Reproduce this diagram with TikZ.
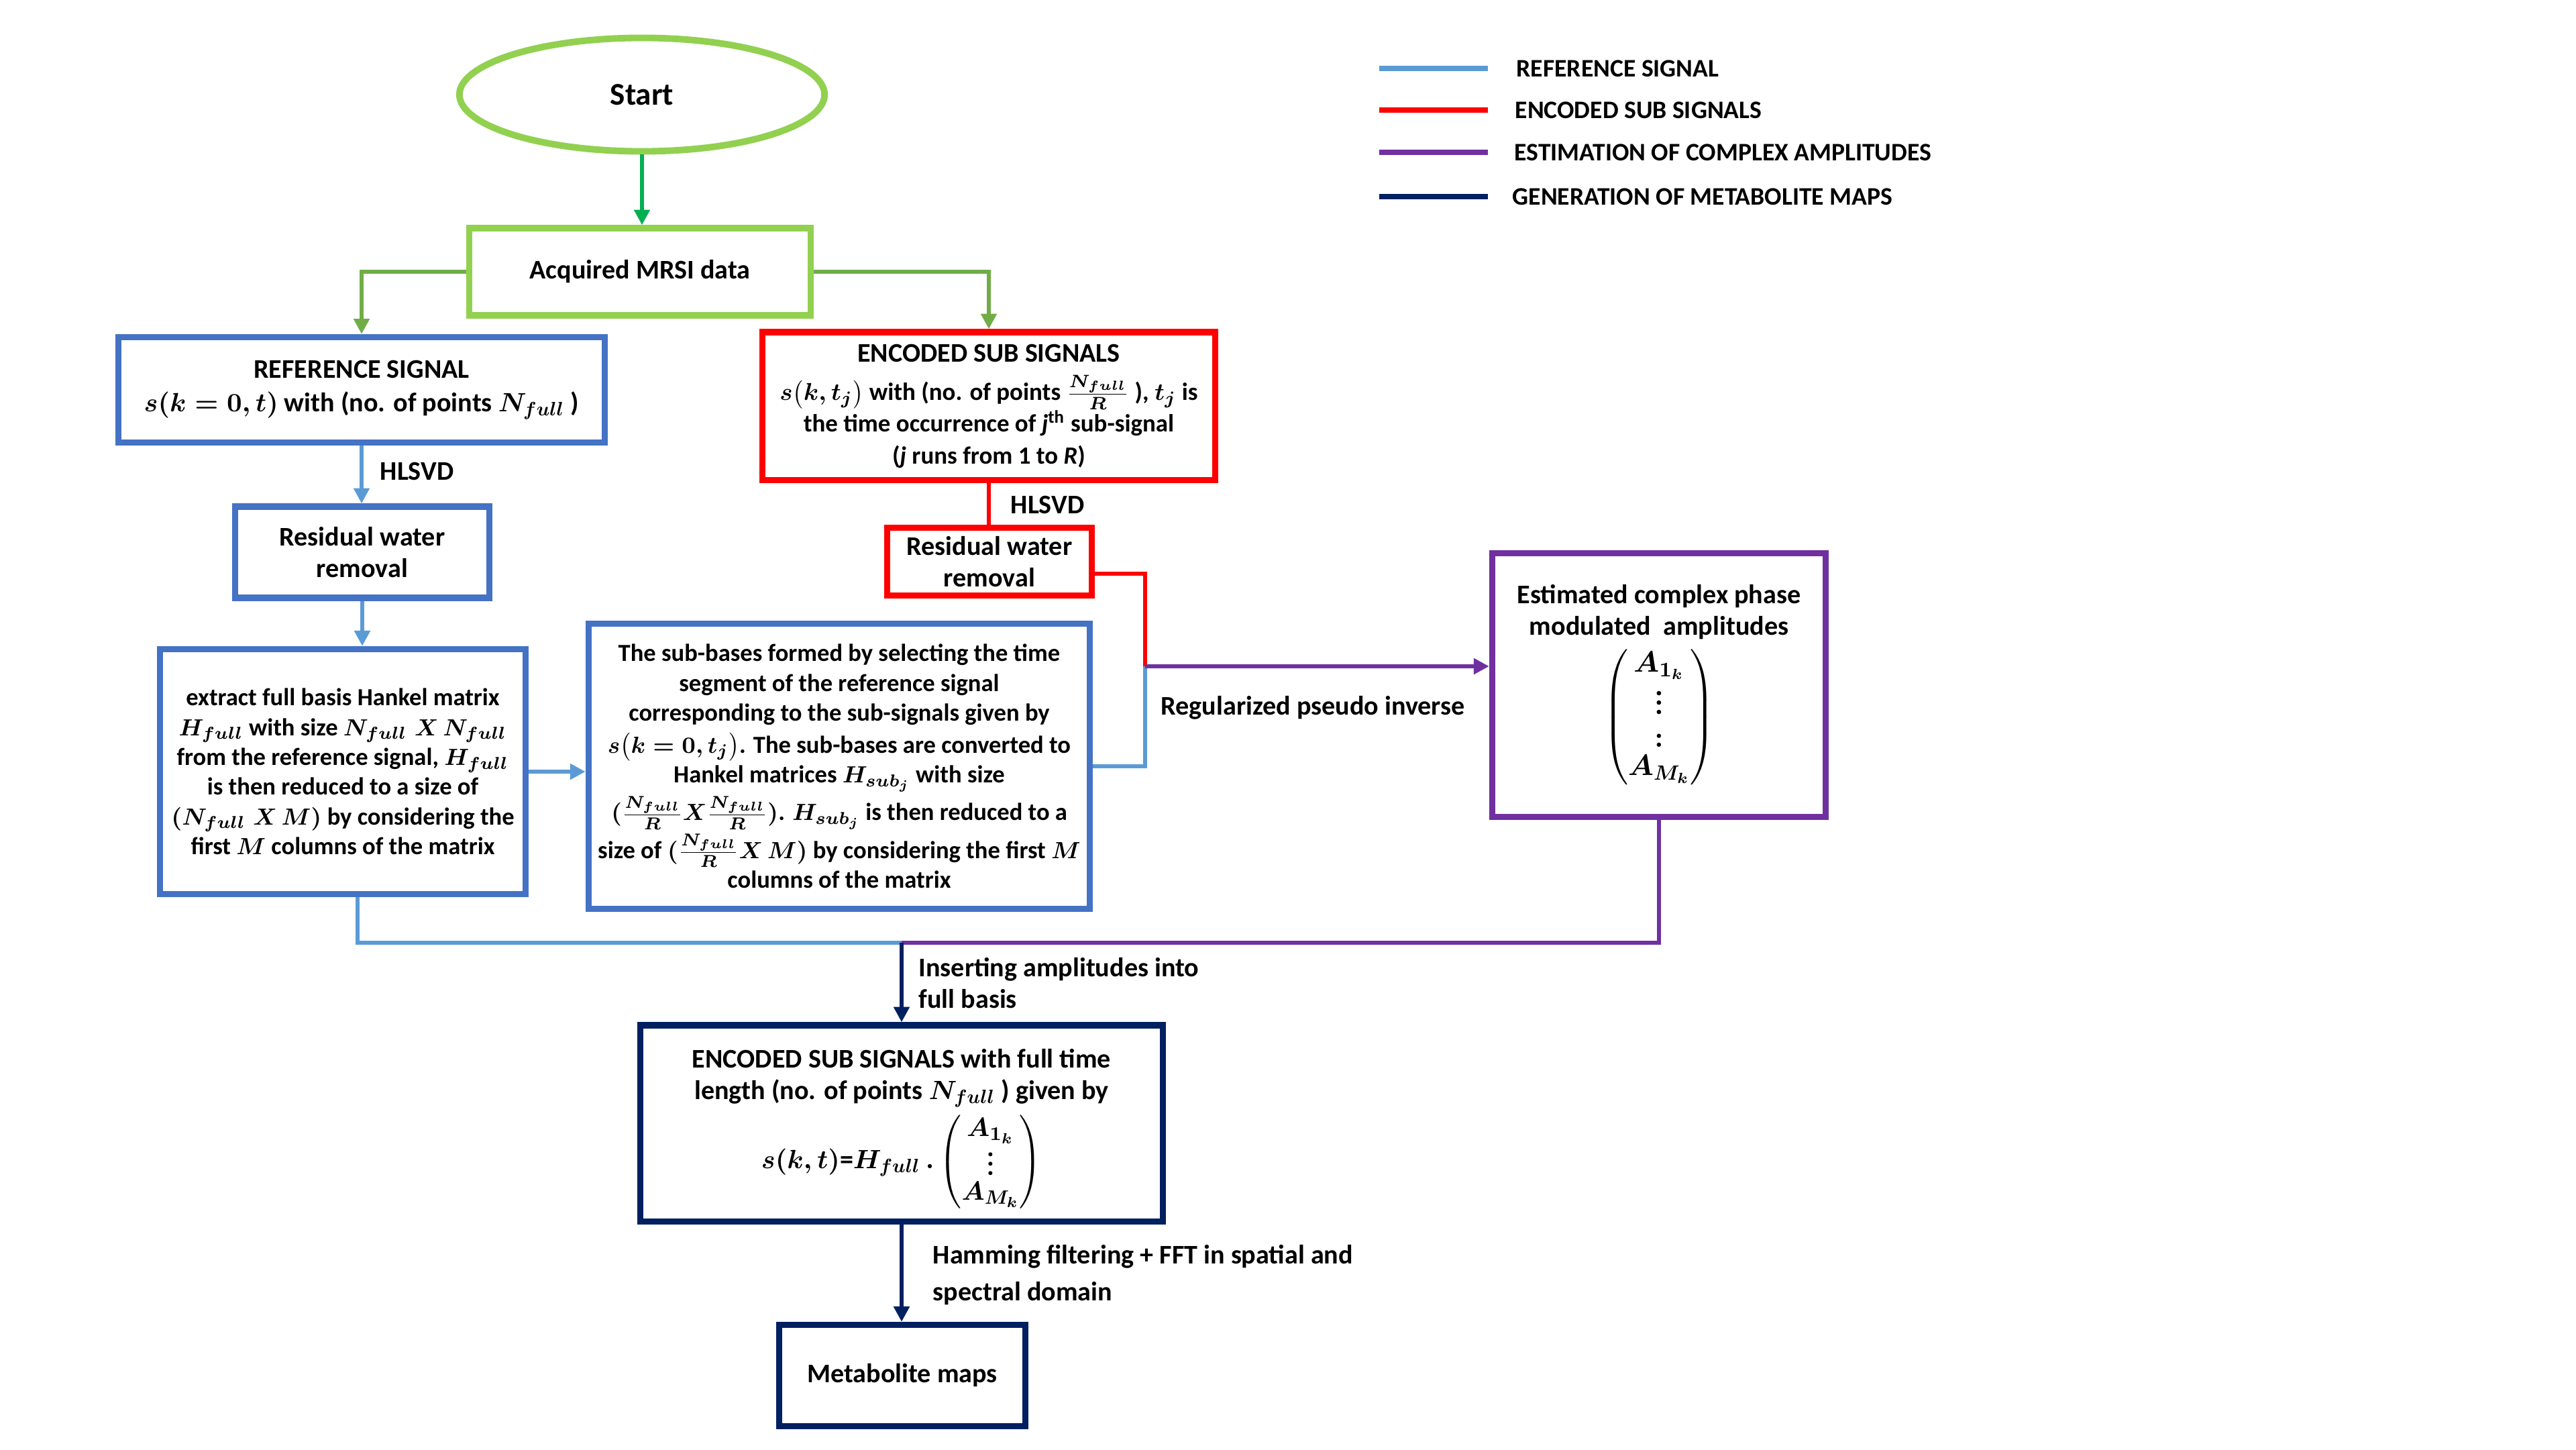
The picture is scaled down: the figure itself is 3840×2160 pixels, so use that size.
\RequirePackage{fix-cm}
\documentclass[tikz,border=0pt]{standalone}
\usepackage{amsmath}
\usepackage{fontspec}
\setmainfont{Carlito}
\DeclareMathSizes{11.4}{11.2}{8.2}{6.2}
\DeclareMathSizes{10.5}{10.3}{7.6}{5.6}
\DeclareMathSizes{10.4}{9.9}{7.3}{5.4}
\usetikzlibrary{arrows.meta,shapes.geometric}
\definecolor{cGreenL}{HTML}{92D050}
\definecolor{cGreenA}{HTML}{00B050}
\definecolor{cGreenD}{HTML}{70AD47}
\definecolor{cBlueB}{HTML}{4472C4}
\definecolor{cBlueL}{HTML}{5B9BD5}
\definecolor{cRed}{HTML}{FF0000}
\definecolor{cPurp}{HTML}{7030A0}
\definecolor{cNavy}{HTML}{002060}
\newcommand{\encsize}{\fontsize{10.5}{12.8}\selectfont}
\begin{document}
\begin{tikzpicture}[x=0.01cm,y=-0.01cm,
  every node/.style={font=\fontsize{11.4}{13.4}\selectfont\bfseries\mathversion{bold}},
  box/.style={draw, rectangle, line width=2.6pt, align=center, inner sep=0pt},
  smallbox/.style={font=\fontsize{10.4}{12.6}\selectfont\bfseries\mathversion{bold}},
  conn/.style={line width=1.8pt},
  tip/.style={-{Triangle[length=6.5pt,width=6.5pt]}},
  lbl/.style={align=left, anchor=west, inner sep=0pt},
  legtext/.style={lbl, font=\fontsize{10.7}{12.6}\selectfont\bfseries},
  legline/.style={line width=2pt},
]
\useasboundingbox (0,0) rectangle (3840,2160);

% nodes
\node[ellipse, draw=cGreenL, line width=2.8pt, minimum width=5.44cm, minimum height=1.69cm,
      font=\fontsize{13.4}{16}\selectfont\bfseries] (start) at (957,141) {Start};
\node[box, draw=cGreenL, minimum width=5.08cm, minimum height=1.30cm] (acq) at (954,405) {Acquired MRSI data};
\node[box, draw=cBlueB, minimum width=7.25cm, minimum height=1.57cm] (ref) at (539,581)
  {REFERENCE SIGNAL\\[1pt] $s(k=0,t)$ with (no. of points $N_{full}$ )};
\node[box, draw=cRed, minimum width=6.75cm, minimum height=2.20cm] (enc) at (1474,605)
  {ENCODED SUB SIGNALS\\[3pt]
   \encsize $s\bigl(k,t_j\bigr)$ with (no. of points $\frac{N_{full}}{R}$ ), $t_j$ is\\
   \encsize the time occurrence of \textit{j}\textsuperscript{th} sub-signal\\
   \encsize (\textit{j} runs from 1 to \textit{R})};
\node[box, draw=cBlueB, minimum width=3.78cm, minimum height=1.36cm] (res1) at (540,823) {Residual water\\ removal};
\node[box, draw=cRed, minimum width=3.05cm, minimum height=1.01cm] (res2) at (1475,837) {Residual water\\ removal};
\node[box, smallbox, draw=cBlueB, minimum width=5.44cm, minimum height=3.65cm] (ext) at (511,1150)
  {extract full basis Hankel matrix\\ $H_{full}$ with size $N_{full}\;X\,N_{full}$\\
   from the reference signal, $H_{full}$\\ is then reduced to a size of\\
   $(N_{full}\;X\,M)$ by considering the\\ first $M$ columns of the matrix};
\node[box, smallbox, draw=cBlueB, minimum width=7.47cm, minimum height=4.25cm] (sub) at (1251,1142)
  {The sub-bases formed by selecting the time\\ segment of the reference signal\\
   corresponding to the sub-signals given by\\[1pt] $s\bigl(k=0,t_j\bigr)$. The sub-bases are converted to\\
   Hankel matrices $H_{sub_j}$ with size\\[1pt] $(\frac{N_{full}}{R}X\frac{N_{full}}{R})$. $H_{sub_j}$ is then reduced to a\\[1pt]
   size of $(\frac{N_{full}}{R}X\,M)$ by considering the first $M$\\ columns of the matrix};
\node[box, draw=cPurp, minimum width=4.97cm, minimum height=3.92cm] (est) at (2473,1021)
  {Estimated complex phase\\ modulated\ \ amplitudes\\[3pt]
   {\fontsize{12.5}{14}\selectfont$\begin{pmatrix} A_{1_k}\\[-2pt] \vdots\\[0pt] {:}\\[-2pt] A_{M_k}\end{pmatrix}$}};
\node[box, draw=cNavy, minimum width=7.78cm, minimum height=2.92cm] (full) at (1344,1674)
  {\rule{0pt}{13pt}ENCODED SUB SIGNALS with full time\\ length (no. of points $N_{full}$ ) given by\\[2pt]
   {$s(k,t)$=$H_{full}\,.\begin{pmatrix}A_{1_k}\\[-3pt] \vdots\\[-3pt] A_{M_k}\end{pmatrix}$}};
\node[box, draw=cNavy, minimum width=3.67cm, minimum height=1.51cm] (maps) at (1345,2050) {Metabolite maps};

% labels
\node[lbl] (hl1) at (566,702) {HLSVD};
\node[lbl] (hl2) at (1506,752) {HLSVD};
\node[lbl] (lreg) at (1730,1055) {Regularized pseudo inverse};
\node[lbl] (lins) at (1369,1465) {Inserting amplitudes into\\ full basis};
\node[lbl, font=\fontsize{11.4}{15.6}\selectfont\bfseries] (lham) at (1390,1900) {Hamming filtering + FFT in spatial and\\ spectral domain};

% connectors
\draw[conn, cGreenA, tip] (start.south) -- (start.south |- acq.north);
\draw[conn, cGreenD, tip] (acq.west) -| (ref.north);
\draw[conn, cGreenD, tip] (acq.east) -| (enc.north);
\draw[conn, cBlueL, tip] (ref.south) -- (ref.south |- res1.north);
\draw[conn, cRed] (enc.south) -- (enc.south |- res2.north);
\draw[conn, cBlueL, tip] (res1.south) -- (res1.south |- ext.north);
\draw[conn, cBlueL, tip] (ext.east) -- (sub.west |- ext.east);
\coordinate (jn) at (1707,993);
\draw[conn, cRed] ([yshift=-0.18cm]res2.east) -| (jn);
\draw[conn, cBlueL] (sub.east) -| (jn);
\draw[conn, cPurp, tip] (jn) -- (jn -| est.west);
\coordinate (jb) at (1344,1405);
\draw[conn, cBlueL] ([xshift=0.22cm]ext.south) |- (jb);
\draw[conn, cPurp] (est.south) |- (jb);
\draw[conn, cNavy, tip] (jb) -- (jb |- full.north);
\draw[conn, cNavy, tip] (full.south) -- (full.south |- maps.north);

% legend
\coordinate (la1) at (2056,102); \coordinate (lb1) at (2218,102);
\coordinate (la2) at (2056,164); \coordinate (lb2) at (2218,164);
\coordinate (la3) at (2056,227); \coordinate (lb3) at (2218,227);
\coordinate (la4) at (2056,293); \coordinate (lb4) at (2218,293);
\draw[legline, cBlueL] (la1) -- (lb1);
\draw[legline, cRed] (la2) -- (lb2);
\draw[legline, cPurp] (la3) -- (lb3);
\draw[legline, cNavy] (la4) -- (lb4);
\node[legtext] (lt1) at (2260,102) {REFERENCE SIGNAL};
\node[legtext] (lt2) at (2258,164) {ENCODED SUB SIGNALS};
\node[legtext] (lt3) at (2257,227) {ESTIMATION OF COMPLEX AMPLITUDES};
\node[legtext] (lt4) at (2254,293) {GENERATION OF METABOLITE MAPS};
\end{tikzpicture}
\end{document}
